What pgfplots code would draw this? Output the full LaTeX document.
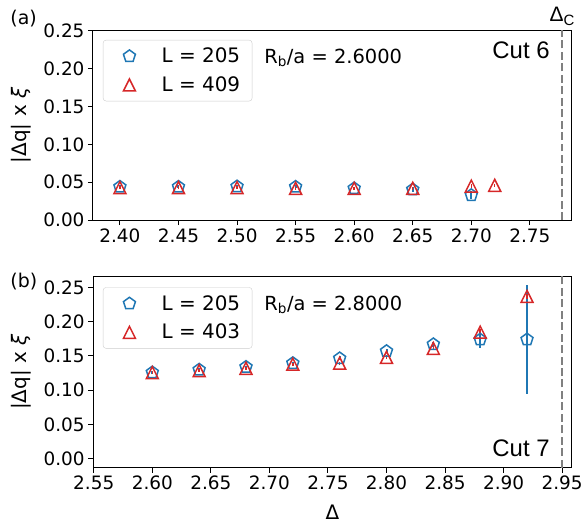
\documentclass[border=0pt]{standalone}
\usepackage{fontspec}
\setmainfont{DejaVu Sans}
\newfontfamily\lib{Liberation Sans}
\usepackage{pgfplots}
\pgfplotsset{compat=1.18}
\definecolor{mblue}{HTML}{1F77B4}
\definecolor{mred}{HTML}{D62728}
\definecolor{mgray}{HTML}{808080}
\pgfdeclareplotmark{mtri}{%
  \pgfpathmoveto{\pgfqpoint{0pt}{\pgfplotmarksize}}%
  \pgfpathlineto{\pgfqpoint{-\pgfplotmarksize}{-\pgfplotmarksize}}%
  \pgfpathlineto{\pgfqpoint{\pgfplotmarksize}{-\pgfplotmarksize}}%
  \pgfpathclose\pgfusepathqstroke}
\pgfdeclareplotmark{mpent}{%
  \pgfpathmoveto{\pgfqpointpolar{90}{\pgfplotmarksize}}%
  \pgfpathlineto{\pgfqpointpolar{162}{\pgfplotmarksize}}%
  \pgfpathlineto{\pgfqpointpolar{234}{\pgfplotmarksize}}%
  \pgfpathlineto{\pgfqpointpolar{306}{\pgfplotmarksize}}%
  \pgfpathlineto{\pgfqpointpolar{18}{\pgfplotmarksize}}%
  \pgfpathclose\pgfusepathqstroke}
\pgfplotsset{
  myax/.style={
    scale only axis, width=480pt,
    clip=false,
    axis line style={line width=1pt},
    tick align=outside, xtick pos=bottom, ytick pos=left,
    major tick length=5pt,
    every tick/.style={black, line width=1pt},
    ticklabel style={font=\fontsize{18.5}{22}\selectfont},
    scaled ticks=false,
    /pgf/number format/fixed,
    /pgf/number format/fixed zerofill,
    /pgf/number format/precision=2,
    /pgf/number format/assume math mode=true,
    ytick={0,0.05,0.10,0.15,0.20,0.25},
    ylabel={|Δq| x \textit{ξ}},
    ylabel style={font=\fontsize{20}{24}\selectfont, at={(axis description cs:-0.1496,0.5)}, anchor=center},
    legend style={anchor=north west, draw=black!20, rounded corners=3pt, fill=white,
      font=\fontsize{20}{24}\selectfont, inner xsep=10pt, inner ysep=6pt,
      row sep=8.5pt, column sep=9.9pt},
    legend cell align=left,
  },
  limg/.style={legend image code/.code={\draw[##1] plot[only marks] coordinates {(16.4pt,0pt)}; \path[draw=none] (0pt,0pt) (36.8pt,0pt);}},
  blueser/.style={mblue, only marks, mark=mpent, mark size=6.3pt, line width=1.5pt, limg,
    error bars/.cd, y dir=both, y explicit, error mark=none,
    error bar style={line width=2pt, mblue}},
  redser/.style={mred, only marks, mark=mtri, mark size=6pt, line width=1.5pt, limg,
    error bars/.cd, y dir=both, y explicit, error mark=none,
    error bar style={line width=1.5pt, mred}},
}
\begin{document}
\begin{tikzpicture}
\path (-93.3pt,30.5pt) rectangle (492.7pt,-497.5pt);
% ---------- panel (a)
\begin{axis}[myax, height=190.5pt, at={(0pt,0pt)}, anchor=north west,
  xmin=2.377, xmax=2.7854, ymin=0, ymax=0.25,
  xtick={2.40,2.45,2.50,2.55,2.60,2.65,2.70,2.75},
  legend style={at={(0.0208,0.950)}}]
\addplot[blueser] table[x=x, y=y, y error=e] {
x y e
2.40 0.0440 0.002
2.45 0.0440 0.002
2.50 0.0445 0.002
2.55 0.0440 0.002
2.60 0.0420 0.002
2.65 0.0405 0.003
2.70 0.0330 0.005
};
\addlegendentry{L = 205}
\addplot[redser] table[x=x, y=y, y error=e] {
x y e
2.40 0.0430 0.002
2.45 0.0430 0.002
2.50 0.0430 0.002
2.55 0.0420 0.002
2.60 0.0420 0.002
2.65 0.0420 0.002
2.70 0.0450 0.003
2.72 0.0460 0.002
};
\addlegendentry{L = 409}
\addplot[mgray, line width=2.3pt, dash pattern=on 8pt off 3.5pt, forget plot] coordinates {(2.7775,0) (2.7775,0.25)};
\node[anchor=base west, font=\fontsize{19.5}{23}\selectfont, inner sep=0pt] at (rel axis cs:0.3577,0.828) {R\textsubscript{b}/a = 2.6000};
\node[anchor=base east, font=\lib\fontsize{24}{28}\selectfont, inner sep=0pt] at (rel axis cs:0.955,0.854) {Cut 6};
\node[anchor=base, inner sep=0pt, yshift=8.8pt] at (axis cs:2.7775,0.25) {\lib\fontsize{21}{25}\selectfont Δ\raisebox{-4.3pt}{\fontsize{15}{18}\selectfont C}};
\node[font=\fontsize{19}{23}\selectfont] at (rel axis cs:-0.145,1.060) {(a)};
\end{axis}
% ---------- panel (b)
\begin{axis}[myax, height=192pt, at={(0.2pt,-246.8pt)}, anchor=north west,
  xmin=2.5495, xmax=2.958, ymin=-0.0128, ymax=0.266,
  xtick={2.55,2.60,2.65,2.70,2.75,2.80,2.85,2.90,2.95},
  xlabel={Δ},
  xlabel style={font=\fontsize{20}{24}\selectfont, at={(axis description cs:0.5,-0.2328)}, anchor=center},
  legend style={at={(0.0204,0.943)}}]
\addplot[blueser] table[x=x, y=y, y error=e] {
x y e
2.60 0.1260 0.002
2.64 0.1300 0.002
2.68 0.1340 0.002
2.72 0.1395 0.002
2.76 0.1465 0.003
2.80 0.1570 0.003
2.84 0.1670 0.004
2.88 0.1738 0.012
2.92 0.1740 0.0787
};
\addlegendentry{L = 205}
\addplot[redser] table[x=x, y=y, y error=e] {
x y e
2.60 0.1257 0.002
2.64 0.1286 0.002
2.68 0.1320 0.002
2.72 0.1380 0.002
2.76 0.1395 0.002
2.80 0.1480 0.003
2.84 0.1610 0.003
2.88 0.1847 0.004
2.92 0.2367 0.004
};
\addlegendentry{L = 403}
\addplot[mgray, line width=2.3pt, dash pattern=on 8pt off 3.5pt, forget plot] coordinates {(2.95,-0.0128) (2.95,0.266)};
\node[anchor=base west, font=\fontsize{19.5}{23}\selectfont, inner sep=0pt] at (rel axis cs:0.3577,0.821) {R\textsubscript{b}/a = 2.8000};
\node[anchor=base east, font=\lib\fontsize{24}{28}\selectfont, inner sep=0pt] at (rel axis cs:0.9546,0.058) {Cut 7};
\node[font=\fontsize{19}{23}\selectfont] at (rel axis cs:-0.145,0.973) {(b)};
\end{axis}
\end{tikzpicture}
\end{document}
